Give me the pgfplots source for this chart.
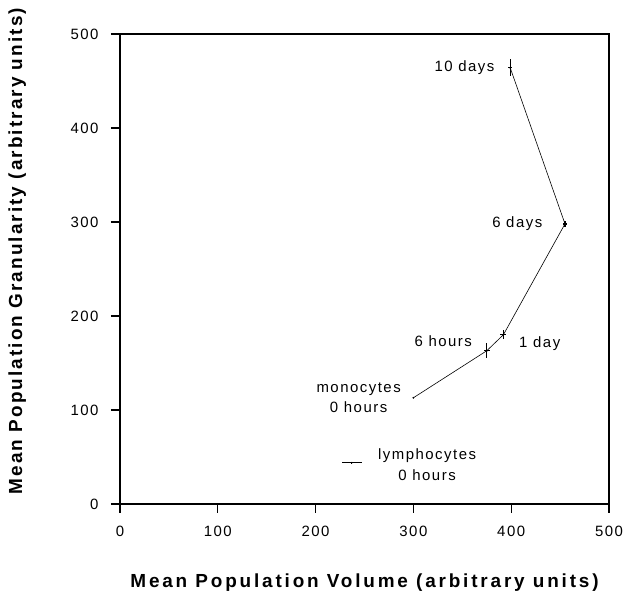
\documentclass[border=0pt]{standalone}
\usepackage{fontspec}
\setmainfont{Liberation Sans}
\newfontfamily\lsp[LetterSpace=10]{Liberation Sans}
\newfontfamily\lbold[LetterSpace=15]{Liberation Sans Bold}
\newfontfamily\lboldy[LetterSpace=11]{Liberation Sans Bold}
\usepackage{pgfplots}
\pgfplotsset{compat=1.18}

\begin{document}
\begin{tikzpicture}
\begin{axis}[
  name=ax,
  width=489bp, height=470bp, scale only axis,
  xmin=0, xmax=500, ymin=0, ymax=500,
  xtick={0,100,...,500}, ytick={0,100,...,500},
  axis line style={line width=1.6pt},
  tick align=outside, xtick pos=bottom, ytick pos=left,
  major tick length=9bp,
  tick style={line width=1.2pt, black},
  /pgf/number format/assume math mode=true,
  ticklabel style={font=\fontsize{15}{17}\lsp},
  xticklabel style={yshift=-10bp},
  yticklabel style={xshift=-9bp},
  xlabel={Mean Population Volume (arbitrary units)},
  ylabel={Mean Population Granularity (arbitrary units)},
  xlabel style={font=\fontsize{19}{21}\lbold,
    at={(axis description cs:0.5,-0.168)}, anchor=center},
  ylabel style={font=\fontsize{19}{21}\lboldy,
    at={(axis description cs:-0.210,0.538)}, anchor=center, rotate=0},
  clip=false,
]
% monocyte time course: 0 h, 6 h, 1 d, 6 d, 10 d
\addplot[black, line width=0.6pt, mark=*, mark size=0.6pt,
  error bars/.cd, x dir=both, y dir=both, x explicit, y explicit,
  error mark=none, error bar style={line width=1.3pt}]
  table[x=x, y=y, x error=ex, y error=ey] {
  x    y    ex   ey
  300  113  0    0
  375  163  3    8
  392  180  3    5
  455  298  2    3
  399  464  2    9
};
% lymphocytes 0 h
\addplot[black, only marks, mark=*, mark size=0.6pt,
  error bars/.cd, x dir=both, y dir=both, x explicit, y explicit,
  error mark=none, error bar style={line width=1.4pt}]
  table[x=x, y=y, x error=ex, y error=ey] {
  x    y    ex   ey
  237  44   10   1
};
\begin{scope}[every node/.style={font=\fontsize{15}{21}\lsp, inner sep=0pt}]
\node[anchor=east] at (axis cs:383,464) {10 days};
\node[anchor=east] at (axis cs:432,298) {6 days};
\node[anchor=east] at (axis cs:360,173) {6 hours};
\node[anchor=west] at (axis cs:408,171) {1 day};
\node[align=center] at (axis cs:244,113) {monocytes\\0 hours};
\node[align=center] at (axis cs:314,42) {lymphocytes\\0 hours};
\end{scope}
\end{axis}
\pgfresetboundingbox
\path (ax.south west) ++(-120bp,-92bp) coordinate (bl);
\path (ax.north east) ++(15bp,34bp) coordinate (tr);
\useasboundingbox (bl) rectangle (tr);
\end{tikzpicture}
\end{document}
